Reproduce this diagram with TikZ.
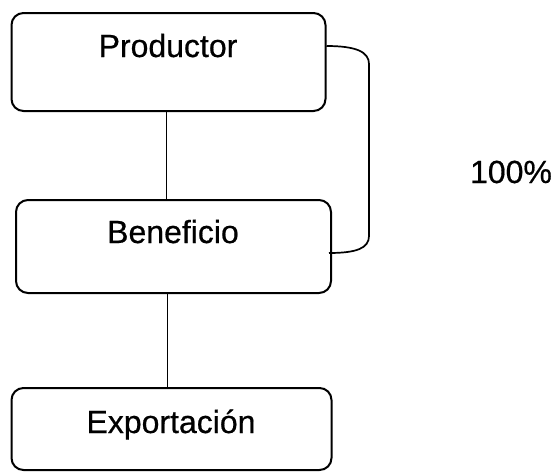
\documentclass[tikz,border=0pt]{standalone}
\usepackage{fontspec}
\setmainfont{Liberation Sans}
\begin{document}
\begin{tikzpicture}[x=1pt,y=-1pt,
  box/.style={draw, line width=2pt, rounded corners=12pt, inner sep=0pt},
  lbl/.style={anchor=base, inner sep=0pt, font=\fontsize{32}{36}\selectfont\addfontfeature{FakeBold=0.6}},
  conn/.style={draw, line width=1.7pt}]
\useasboundingbox (0,0) rectangle (552,472);
% boxes
\node[box, minimum width=314pt, minimum height=98pt] (prod) at (168.5,62) {};
\node[box, minimum width=315pt, minimum height=93pt] (bene) at (173.5,246.5) {};
\node[box, minimum width=320pt, minimum height=82pt] (expo) at (171.5,429) {};
% labels
\node[lbl] (tprod) at (168,57) {Productor};
\node[lbl] (tbene) at (173,243) {Beneficio};
\node[lbl] (texpo) at (171,433) {Exportación};
\node[lbl] (pct) at (511,183) {100\%};
% connectors
\draw[conn] ([xshift=-2pt]prod.south) -- ([xshift=-2pt]prod.south |- bene.north);
\draw[conn] ([xshift=-6pt]bene.south) -- ([xshift=-6pt]bene.south |- expo.north);
\coordinate (bs) at ([yshift=16pt]prod.east);
\coordinate (be) at ([yshift=-6.5pt,xshift=-3pt]bene.east);
\draw[conn] (bs) .. controls +(30,0) and +(0,-12) .. (369,64) -- (369,236)
  .. controls +(0,12) and +(28,0) .. (be);
\end{tikzpicture}
\end{document}
